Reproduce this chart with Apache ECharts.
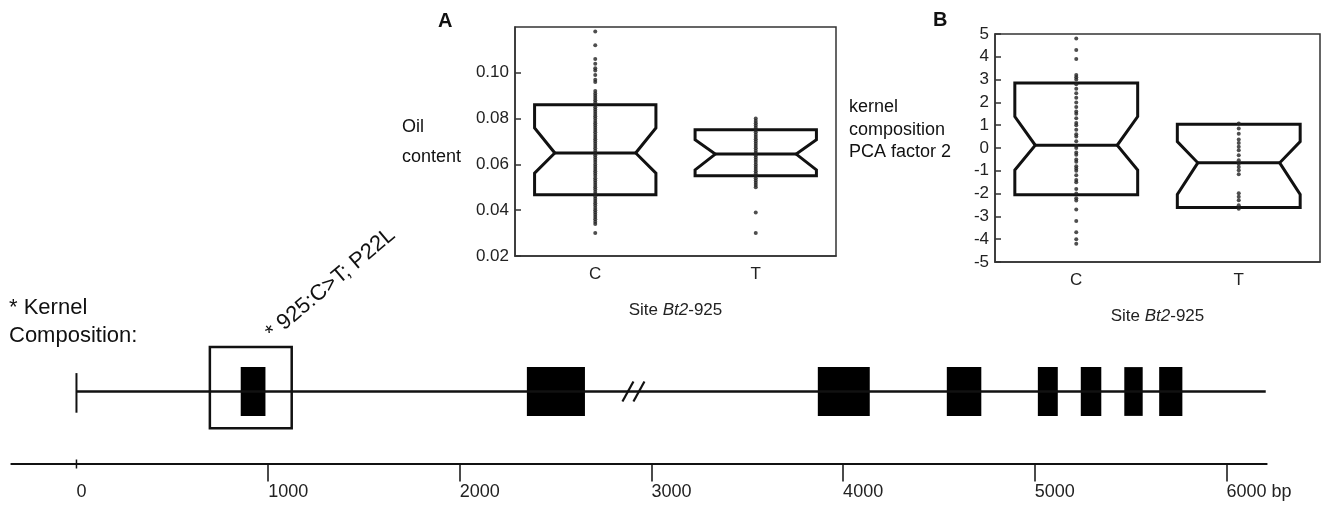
<!DOCTYPE html>
<html>
<head>
<meta charset="utf-8">
<script src="https://cdn.jsdelivr.net/npm/echarts@6/dist/echarts.min.js"></script>
<style>
html,body{margin:0;padding:0;background:#fff;}
#chart{width:1325px;height:508px;}
</style>
</head>
<body>
<div id="chart"></div>
<script>
// ---------- data ----------
const categories = ['C', 'T'];
// Panel A: oil content, individual observations
const oilC = [0.118, 0.112, 0.106, 0.104, 0.102, 0.101, 0.099, 0.097, 0.096, 0.092, 0.091, 0.090, 0.089, 0.088,
  0.087, 0.086, 0.085, 0.084, 0.083, 0.082, 0.081, 0.080, 0.079, 0.078, 0.077, 0.076, 0.075, 0.074, 0.073, 0.072,
  0.071, 0.070, 0.069, 0.068, 0.067, 0.066, 0.065, 0.064, 0.063, 0.062, 0.061, 0.060, 0.059, 0.058, 0.057, 0.056,
  0.055, 0.054, 0.053, 0.052, 0.051, 0.050, 0.049, 0.048, 0.047, 0.046, 0.045, 0.044, 0.043, 0.042, 0.041, 0.040,
  0.039, 0.038, 0.037, 0.036, 0.035, 0.034, 0.030];
const oilT = [0.080, 0.079, 0.078, 0.077, 0.076, 0.075, 0.074, 0.073, 0.072, 0.071, 0.070, 0.069, 0.068, 0.067,
  0.066, 0.065, 0.064, 0.063, 0.062, 0.061, 0.060, 0.059, 0.058, 0.057, 0.056, 0.055, 0.054, 0.053, 0.052, 0.051,
  0.050, 0.039, 0.030];
// notched box: [q1, notchLow, median, notchHigh, q3]
const oilBoxC = [0.0467, 0.0562, 0.065, 0.0759, 0.086];
const oilBoxT = [0.055, 0.0576, 0.0645, 0.0708, 0.0751];
const oilTicks = [0.02, 0.04, 0.06, 0.08, 0.10];

// Panel B: kernel composition PCA factor 2
const pcaC = [4.8, 4.3, 3.9, 3.2, 3.1, 3.0, 2.8, 2.6, 2.4, 2.2, 2.0, 1.8, 1.6, 1.5, 1.3, 1.1, 1.0, 0.8, 0.6, 0.5,
  0.3, 0.1, 0.0, -0.2, -0.3, -0.5, -0.6, -0.8, -0.9, -1.0, -1.2, -1.4, -1.5, -1.8, -2.0, -2.2, -2.3, -2.7, -3.2,
  -3.7, -4.0, -4.2];
const pcaT = [1.07, 0.85, 0.63, 0.37, 0.22, 0.05, -0.1, -0.32, -0.54, -0.69, -0.83, -0.98, -1.15,
  -1.99, -2.14, -2.29, -2.51, -2.66];
const pcaBoxC = [-2.05, -0.97, 0.12, 1.38, 2.85];
const pcaBoxT = [-2.61, -2.04, -0.65, 0.28, 1.04];
const pcaTicks = [-5, -4, -3, -2, -1, 0, 1, 2, 3, 4, 5];

// Gene model (bp)
const geneSpan = [0, 6205];
const exons = [[857, 986], [2350, 2653], [3868, 4139], [4541, 4721], [5016, 5120], [5240, 5347], [5467, 5563], [5649, 5770]];
const highlightRegion = [[696, 1123]];
const breakPoints = [2906];
const bpTicks = [0, 1000, 2000, 3000, 4000, 5000, 6000];

// ---------- styling helpers ----------
const FONT = "'Liberation Sans', Arial, Helvetica, sans-serif";
const INK = '#111';
const FRAME = '#333';

function notchedBox(params, api) {
  const ci = api.value(0);
  const q1 = api.value(1), nl = api.value(2), md = api.value(3), nh = api.value(4), q3 = api.value(5);
  const band = api.size([1, 0])[0];
  const half = band * 0.378, inset = band * 0.126;
  const cx = api.coord([ci, md])[0];
  const y = v => api.coord([ci, v])[1];
  const L = cx - half, R = cx + half;
  const pts = [[L, y(q3)], [R, y(q3)], [R, y(nh)], [R - inset, y(md)], [R, y(nl)], [R, y(q1)],
    [L, y(q1)], [L, y(nl)], [L + inset, y(md)], [L, y(nh)]];
  return {
    type: 'group', children: [
      { type: 'polygon', shape: { points: pts }, style: { fill: 'none', stroke: INK, lineWidth: 3, lineJoin: 'miter' } },
      { type: 'line', shape: { x1: L + inset, y1: y(md), x2: R - inset, y2: y(md) }, style: { stroke: INK, lineWidth: 3 } }
    ]
  };
}

function boxGridAxes(gridIndex, ticks, min, max, interval, fmt) {
  return {
    x: {
      type: 'category', gridIndex, data: categories, boundaryGap: true,
      axisLine: { onZero: false, lineStyle: { color: FRAME, width: 1.5 } },
      axisTick: { inside: true, length: 7, lineStyle: { color: FRAME, width: 1.5 } },
      axisLabel: { color: '#222', fontSize: 17, fontFamily: FONT, margin: 10 },
      name: 'Site {i|Bt2}-925', nameLocation: 'middle', nameGap: 46,
      nameTextStyle: { color: '#222', fontSize: 17, fontFamily: FONT, rich: { i: { fontStyle: 'italic', fontSize: 17, fontFamily: FONT, color: '#222' } } },
      splitLine: { show: false }
    },
    y: {
      type: 'value', gridIndex, min, max, interval,
      axisLine: { show: true, onZero: false, lineStyle: { color: FRAME, width: 1.5 } },
      axisTick: { show: true, inside: true, length: 6, customValues: ticks, lineStyle: { color: FRAME, width: 1.5 } },
      axisLabel: { color: '#222', fontSize: 17, fontFamily: FONT, margin: 6, customValues: ticks, formatter: fmt },
      splitLine: { show: false }
    }
  };
}

const axA = boxGridAxes(0, oilTicks, 0.02, 0.12, 0.02, v => v.toFixed(2));
const axB = boxGridAxes(1, pcaTicks, -5, 5, 1, v => String(Math.round(v)));

const gridBox = { show: true, borderColor: FRAME, borderWidth: 1.5, backgroundColor: 'transparent' };

const option = {
  animation: false,
  backgroundColor: '#fff',
  grid: [
    Object.assign({ left: 515, top: 27, width: 321, height: 229 }, gridBox),
    Object.assign({ left: 995, top: 34, width: 325, height: 228 }, gridBox),
    { left: 11.3, top: 341.5, width: 1255.4, height: 100, show: false },
    { left: 11.3, top: 440, width: 1255.4, height: 23.5, show: false }
  ],
  xAxis: [
    axA.x, axB.x,
    { type: 'value', gridIndex: 2, min: -340, max: 6210, show: false },
    {
      type: 'value', gridIndex: 3, min: -340, max: 6210, position: 'bottom',
      axisLine: { show: true, onZero: false, lineStyle: { color: INK, width: 2 } },
      axisTick: { show: true, length: 18, customValues: bpTicks.filter(v => v !== 0), lineStyle: { color: INK, width: 1.5 } },
      axisLabel: {
        customValues: bpTicks, align: 'left', margin: 20, fontSize: 18, fontFamily: FONT, color: '#222',
        formatter: v => (v === 6000 ? '6000 bp' : String(v))
      },
      splitLine: { show: false }
    }
  ],
  yAxis: [
    axA.y, axB.y,
    { type: 'value', gridIndex: 2, min: -12.5, max: 12.5, show: false },
    { type: 'value', gridIndex: 3, min: 0, max: 1, show: false }
  ],
  series: [
    // Panel A
    { type: 'custom', xAxisIndex: 0, yAxisIndex: 0, renderItem: notchedBox, z: 2,
      encode: { x: 0, y: [1, 2, 3, 4, 5] },
      data: [[0].concat(oilBoxC), [1].concat(oilBoxT)] },
    { type: 'scatter', xAxisIndex: 0, yAxisIndex: 0, symbol: 'circle', symbolSize: 4, z: 3,
      itemStyle: { color: '#222' }, data: oilC.map(v => [0, v]).concat(oilT.map(v => [1, v])) },
    // Panel B
    { type: 'custom', xAxisIndex: 1, yAxisIndex: 1, renderItem: notchedBox, z: 2,
      encode: { x: 0, y: [1, 2, 3, 4, 5] },
      data: [[0].concat(pcaBoxC), [1].concat(pcaBoxT)] },
    { type: 'scatter', xAxisIndex: 1, yAxisIndex: 1, symbol: 'circle', symbolSize: 4, z: 3,
      itemStyle: { color: '#222' }, data: pcaC.map(v => [0, v]).concat(pcaT.map(v => [1, v])) },
    // Gene model backbone
    { type: 'line', xAxisIndex: 2, yAxisIndex: 2, symbol: 'none', silent: true,
      lineStyle: { color: INK, width: 2.5 }, data: [[geneSpan[0], 0], [geneSpan[1], 0]] },
    // start tick
    { type: 'custom', xAxisIndex: 2, yAxisIndex: 2, data: [[geneSpan[0]]],
      renderItem: (p, api) => {
        const a = api.coord([api.value(0), 4.6]), b = api.coord([api.value(0), -5.3]);
        return { type: 'line', shape: { x1: a[0], y1: a[1], x2: b[0], y2: b[1] }, style: { stroke: INK, lineWidth: 2 } };
      } },
    // exons
    { type: 'custom', xAxisIndex: 2, yAxisIndex: 2, data: exons, z: 3,
      renderItem: (p, api) => {
        const a = api.coord([api.value(0), 6.1]), b = api.coord([api.value(1), -6.1]);
        return { type: 'rect', shape: { x: a[0], y: a[1], width: b[0] - a[0], height: b[1] - a[1] }, style: { fill: '#000' } };
      } },
    // highlighted region frame
    { type: 'custom', xAxisIndex: 2, yAxisIndex: 2, data: highlightRegion, z: 4,
      renderItem: (p, api) => {
        const a = api.coord([api.value(0), 11.1]), b = api.coord([api.value(1), -9.2]);
        return { type: 'rect', shape: { x: a[0], y: a[1], width: b[0] - a[0], height: b[1] - a[1] }, style: { fill: 'none', stroke: INK, lineWidth: 2.5 } };
      } },
    // axis break mark "//"
    { type: 'custom', xAxisIndex: 2, yAxisIndex: 2, data: breakPoints.map(v => [v]), z: 4,
      renderItem: (p, api) => {
        const c = api.coord([api.value(0), 0]);
        const mk = dx => ({ type: 'line', shape: { x1: c[0] + dx - 5.5, y1: c[1] + 10, x2: c[0] + dx + 5.5, y2: c[1] - 10 }, style: { stroke: INK, lineWidth: 2.2 } });
        return { type: 'group', children: [mk(-5.5), mk(5.5)] };
      } },
    // short origin tick on the bp scale
    { type: 'custom', xAxisIndex: 3, yAxisIndex: 3, data: [[bpTicks[0]]], z: 4,
      renderItem: (p, api) => {
        const c = api.coord([api.value(0), 0]);
        return { type: 'line', shape: { x1: c[0], y1: c[1] - 4, x2: c[0], y2: c[1] + 5 }, style: { stroke: INK, lineWidth: 1.5 } };
      } }
  ],
  graphic: [
    { type: 'text', left: 9, top: 297, style: { text: '* Kernel', font: `22px ${FONT}`, fill: '#111' } },
    { type: 'text', left: 9, top: 325, style: { text: 'Composition:', font: `22px ${FONT}`, fill: '#111' } },
    { type: 'text', x: 276, y: 344, rotation: 40 * Math.PI / 180,
      style: { text: '* 925:C>T; P22L', font: `22px ${FONT}`, fill: '#111', textAlign: 'left', textVerticalAlign: 'bottom' } },
    { type: 'text', x: 438, y: 21, style: { text: 'A', font: `bold 20px ${FONT}`, fill: '#111', textVerticalAlign: 'middle' } },
    { type: 'text', x: 933, y: 20, style: { text: 'B', font: `bold 20px ${FONT}`, fill: '#111', textVerticalAlign: 'middle' } },
    { type: 'text', x: 402, y: 127, style: { text: 'Oil', font: `18px ${FONT}`, fill: '#111', textVerticalAlign: 'middle' } },
    { type: 'text', x: 402, y: 157, style: { text: 'content', font: `18px ${FONT}`, fill: '#111', textVerticalAlign: 'middle' } },
    { type: 'text', x: 849, y: 107, style: { text: 'kernel', font: `18px ${FONT}`, fill: '#111', textVerticalAlign: 'middle' } },
    { type: 'text', x: 849, y: 130, style: { text: 'composition', font: `18px ${FONT}`, fill: '#111', textVerticalAlign: 'middle' } },
    { type: 'text', x: 849, y: 152, style: { text: 'PCA factor 2', font: `18px ${FONT}`, fill: '#111', textVerticalAlign: 'middle' } }
  ]
};

const chart = echarts.init(document.getElementById('chart'), null, { renderer: 'canvas' });
chart.setOption(option);
</script>
</body>
</html>
